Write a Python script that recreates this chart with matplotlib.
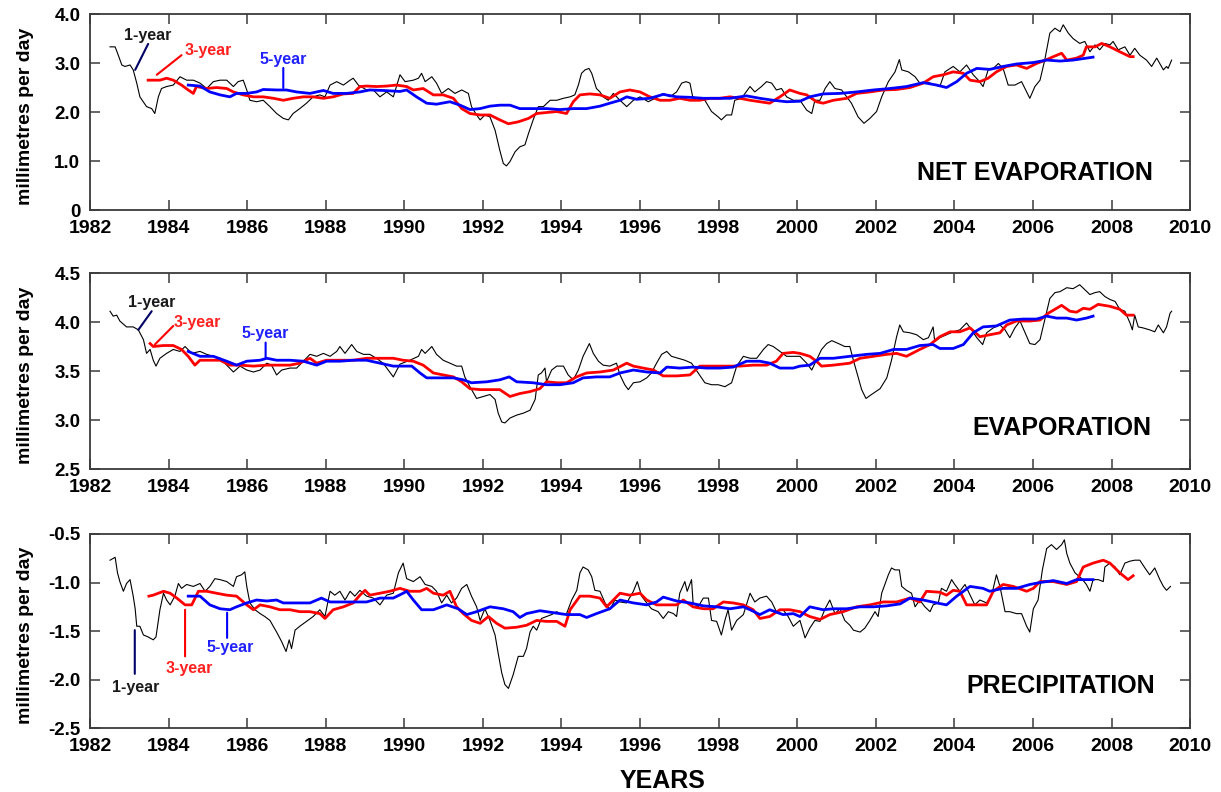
import matplotlib
matplotlib.use("Agg")
import matplotlib.pyplot as plt

plt.rcParams['font.family'] = ['Liberation Sans', 'DejaVu Sans']
plt.rcParams['font.weight'] = 'bold'

# ---------------- NET EVAPORATION ----------------
net_1yr_t = [1982.51, 1982.64, 1982.72, 1982.81, 1982.89, 1983.02, 1983.10, 1983.19, 1983.27, 1983.44, 1983.57, 1983.65,
             1983.74, 1983.82, 1983.95, 1984.12, 1984.29, 1984.46, 1984.63, 1984.80, 1984.97, 1985.14, 1985.31, 1985.48,
             1985.65, 1985.77, 1985.90, 1985.99, 1986.07, 1986.24, 1986.41, 1986.58, 1986.75, 1986.92, 1987.05, 1987.17,
             1987.34, 1987.51, 1987.68, 1987.85, 1987.98, 1988.11, 1988.28, 1988.45, 1988.62, 1988.70, 1988.83, 1989.04,
             1989.21, 1989.38, 1989.55, 1989.72, 1989.89, 1990.02, 1990.23, 1990.36, 1990.44, 1990.53, 1990.70, 1990.82,
             1990.95, 1991.12, 1991.29, 1991.46, 1991.63, 1991.71, 1991.84, 1991.93, 1992.05, 1992.18, 1992.31, 1992.43,
             1992.52, 1992.60, 1992.69, 1992.82, 1992.94, 1993.07, 1993.16, 1993.28, 1993.41, 1993.54, 1993.71, 1993.88,
             1994.05, 1994.22, 1994.34, 1994.43, 1994.51, 1994.60, 1994.70, 1994.77, 1994.89, 1994.98, 1995.06, 1995.19,
             1995.32, 1995.49, 1995.66, 1995.83, 1996.00, 1996.21, 1996.38, 1996.59, 1996.76, 1996.93, 1997.06, 1997.17,
             1997.27, 1997.34, 1997.48, 1997.65, 1997.82, 1997.99, 1998.07, 1998.20, 1998.33, 1998.41, 1998.58, 1998.80,
             1998.92, 1999.09, 1999.22, 1999.35, 1999.47, 1999.60, 1999.73, 1999.90, 2000.07, 2000.24, 2000.37, 2000.45,
             2000.58, 2000.71, 2000.83, 2000.96, 2001.13, 2001.26, 2001.38, 2001.55, 2001.70, 2001.85, 2002.02, 2002.15,
             2002.32, 2002.49, 2002.60, 2002.66, 2002.83, 2003.00, 2003.12, 2003.29, 2003.51, 2003.63, 2003.76, 2003.97,
             2004.14, 2004.31, 2004.48, 2004.61, 2004.73, 2004.86, 2004.99, 2005.12, 2005.24, 2005.37, 2005.54, 2005.71,
             2005.84, 2005.92, 2006.05, 2006.18, 2006.30, 2006.43, 2006.56, 2006.69, 2006.77, 2006.90, 2007.02, 2007.19,
             2007.32, 2007.45, 2007.58, 2007.70, 2007.83, 2007.96, 2008.04, 2008.17, 2008.34, 2008.47, 2008.59, 2008.72,
             2008.89, 2009.02, 2009.15, 2009.32, 2009.40, 2009.44, 2009.53]
net_1yr_v = [3.33, 3.33, 3.16, 2.96, 2.93, 2.96, 2.86, 2.59, 2.31, 2.11, 2.07, 1.97,
             2.31, 2.48, 2.52, 2.55, 2.72, 2.65, 2.65, 2.59, 2.48, 2.62, 2.65, 2.65,
             2.52, 2.62, 2.65, 2.45, 2.24, 2.21, 2.24, 2.11, 1.97, 1.87, 1.84, 1.97,
             2.07, 2.18, 2.31, 2.35, 2.31, 2.55, 2.62, 2.55, 2.65, 2.69, 2.55, 2.45,
             2.45, 2.31, 2.41, 2.31, 2.76, 2.62, 2.65, 2.69, 2.79, 2.62, 2.72, 2.59,
             2.38, 2.48, 2.38, 2.45, 2.38, 2.11, 1.94, 1.84, 1.94, 1.90, 1.63, 1.22,
             0.95, 0.90, 0.99, 1.19, 1.29, 1.33, 1.56, 1.84, 2.11, 2.11, 2.24, 2.24,
             2.28, 2.31, 2.35, 2.55, 2.79, 2.86, 2.89, 2.79, 2.48, 2.41, 2.31, 2.24,
             2.38, 2.24, 2.11, 2.24, 2.31, 2.21, 2.28, 2.38, 2.31, 2.41, 2.59, 2.62,
             2.59, 2.31, 2.28, 2.24, 2.01, 1.90, 1.84, 1.94, 1.94, 2.24, 2.28, 2.52,
             2.41, 2.52, 2.62, 2.59, 2.45, 2.48, 2.31, 2.24, 2.24, 2.04, 1.97, 2.24,
             2.24, 2.48, 2.62, 2.48, 2.45, 2.31, 2.18, 1.90, 1.77, 1.87, 2.01, 2.31,
             2.62, 2.82, 3.07, 2.86, 2.82, 2.72, 2.59, 2.62, 2.55, 2.52, 2.82, 2.93,
             2.82, 2.96, 2.76, 2.65, 2.52, 2.86, 2.89, 2.99, 2.89, 2.55, 2.55, 2.62,
             2.41, 2.28, 2.52, 2.65, 3.06, 3.61, 3.71, 3.64, 3.78, 3.61, 3.50, 3.40,
             3.44, 3.23, 3.37, 3.27, 3.40, 3.37, 3.44, 3.27, 3.33, 3.16, 3.30, 3.16,
             3.06, 2.93, 3.10, 2.86, 2.93, 2.89, 3.06]

net_3yr_t = [1983.48, 1983.78, 1983.95, 1984.12, 1984.33, 1984.50, 1984.63, 1984.71, 1984.97, 1985.22, 1985.48, 1985.65,
             1985.90, 1986.16, 1986.41, 1986.67, 1986.92, 1987.17, 1987.43, 1987.68, 1987.94, 1988.19, 1988.45, 1988.70,
             1988.87, 1989.04, 1989.29, 1989.55, 1989.80, 1990.06, 1990.23, 1990.48, 1990.74, 1990.99, 1991.25, 1991.46,
             1991.67, 1991.93, 1992.18, 1992.43, 1992.65, 1992.90, 1993.16, 1993.37, 1993.62, 1993.88, 1994.13, 1994.30,
             1994.47, 1994.72, 1994.98, 1995.23, 1995.49, 1995.74, 1996.00, 1996.25, 1996.51, 1996.76, 1997.01, 1997.27,
             1997.52, 1997.78, 1998.03, 1998.29, 1998.54, 1998.80, 1999.05, 1999.30, 1999.56, 1999.81, 2000.07, 2000.24,
             2000.49, 2000.66, 2000.92, 2001.26, 2001.51, 2001.85, 2002.19, 2002.53, 2002.87, 2003.21, 2003.46, 2003.72,
             2003.97, 2004.23, 2004.40, 2004.65, 2004.86, 2005.07, 2005.33, 2005.58, 2005.84, 2006.09, 2006.35, 2006.52,
             2006.73, 2006.86, 2007.11, 2007.28, 2007.36, 2007.58, 2007.75, 2007.96, 2008.21, 2008.47, 2008.55]
net_3yr_v = [2.65, 2.65, 2.69, 2.65, 2.55, 2.45, 2.38, 2.52, 2.48, 2.50, 2.48, 2.41,
             2.35, 2.31, 2.31, 2.28, 2.24, 2.28, 2.31, 2.31, 2.28, 2.31, 2.37, 2.38,
             2.52, 2.53, 2.52, 2.53, 2.55, 2.52, 2.45, 2.48, 2.35, 2.35, 2.28, 2.07,
             1.97, 1.94, 1.94, 1.84, 1.76, 1.80, 1.87, 1.97, 1.99, 2.01, 1.97, 2.21,
             2.35, 2.37, 2.35, 2.28, 2.41, 2.45, 2.41, 2.31, 2.24, 2.24, 2.28, 2.24,
             2.24, 2.28, 2.28, 2.31, 2.28, 2.24, 2.21, 2.18, 2.31, 2.45, 2.38, 2.35,
             2.21, 2.18, 2.24, 2.28, 2.38, 2.41, 2.45, 2.46, 2.50, 2.59, 2.72, 2.76,
             2.82, 2.79, 2.65, 2.62, 2.69, 2.82, 2.93, 2.96, 2.89, 2.99, 3.07, 3.13,
             3.20, 3.06, 3.10, 3.16, 3.33, 3.33, 3.40, 3.33, 3.23, 3.13, 3.13]

net_5yr_t = [1984.50, 1984.80, 1985.05, 1985.31, 1985.56, 1985.73, 1985.99, 1986.24, 1986.41, 1986.75, 1987.00, 1987.26,
             1987.60, 1987.94, 1988.19, 1988.53, 1988.87, 1989.12, 1989.46, 1989.89, 1990.06, 1990.31, 1990.57, 1990.82,
             1991.16, 1991.42, 1991.67, 1991.93, 1992.18, 1992.43, 1992.69, 1992.94, 1993.28, 1993.62, 1993.96, 1994.30,
             1994.64, 1994.98, 1995.23, 1995.49, 1995.66, 1995.91, 1996.25, 1996.59, 1996.93, 1997.27, 1997.61, 1997.95,
             1998.29, 1998.71, 1999.05, 1999.39, 1999.73, 2000.07, 2000.32, 2000.66, 2001.09, 2001.51, 2001.94, 2002.36,
             2002.78, 2003.21, 2003.55, 2003.80, 2004.06, 2004.31, 2004.57, 2004.90, 2005.24, 2005.58, 2006.01, 2006.35,
             2006.69, 2007.02, 2007.36, 2007.53]
net_5yr_v = [2.55, 2.53, 2.41, 2.35, 2.31, 2.38, 2.38, 2.41, 2.46, 2.45, 2.45, 2.41,
             2.38, 2.44, 2.38, 2.38, 2.41, 2.45, 2.44, 2.42, 2.45, 2.31, 2.18, 2.16,
             2.21, 2.14, 2.05, 2.07, 2.12, 2.14, 2.14, 2.07, 2.07, 2.07, 2.05, 2.07,
             2.07, 2.12, 2.18, 2.24, 2.31, 2.26, 2.28, 2.36, 2.31, 2.30, 2.28, 2.28,
             2.28, 2.33, 2.28, 2.24, 2.21, 2.22, 2.31, 2.37, 2.38, 2.41, 2.45, 2.48,
             2.52, 2.60, 2.55, 2.50, 2.62, 2.79, 2.89, 2.87, 2.93, 2.98, 3.01, 3.06,
             3.04, 3.06, 3.10, 3.12]

# ---------------- EVAPORATION ----------------
evap_1yr_t = [1982.51, 1982.59, 1982.68, 1982.76, 1982.93, 1983.10, 1983.23, 1983.36, 1983.44, 1983.53, 1983.61, 1983.68,
              1983.78, 1983.95, 1984.12, 1984.29, 1984.42, 1984.59, 1984.80, 1984.97, 1985.14, 1985.31, 1985.48, 1985.65,
              1985.82, 1985.99, 1986.16, 1986.33, 1986.50, 1986.62, 1986.75, 1986.88, 1987.09, 1987.26, 1987.43, 1987.60,
              1987.77, 1987.94, 1988.11, 1988.28, 1988.36, 1988.49, 1988.66, 1988.79, 1988.96, 1989.12, 1989.29, 1989.46,
              1989.59, 1989.72, 1989.89, 1990.14, 1990.36, 1990.44, 1990.53, 1990.70, 1990.82, 1990.99, 1991.16, 1991.33,
              1991.46, 1991.54, 1991.67, 1991.84, 1992.01, 1992.18, 1992.31, 1992.39, 1992.48, 1992.56, 1992.69, 1992.86,
              1993.03, 1993.20, 1993.33, 1993.41, 1993.49, 1993.58, 1993.62, 1993.75, 1993.88, 1994.05, 1994.17, 1994.30,
              1994.43, 1994.55, 1994.71, 1994.81, 1994.94, 1995.06, 1995.23, 1995.40, 1995.49, 1995.61, 1995.70, 1995.83,
              1996.00, 1996.17, 1996.29, 1996.42, 1996.55, 1996.68, 1996.80, 1996.97, 1997.14, 1997.31, 1997.48, 1997.65,
              1997.82, 1997.99, 1998.16, 1998.33, 1998.46, 1998.63, 1998.80, 1998.97, 1999.14, 1999.26, 1999.39, 1999.56,
              1999.73, 1999.90, 2000.07, 2000.24, 2000.37, 2000.49, 2000.62, 2000.75, 2000.88, 2001.05, 2001.21, 2001.34,
              2001.43, 2001.55, 2001.64, 2001.75, 2001.89, 2002.11, 2002.28, 2002.40, 2002.53, 2002.61, 2002.70, 2002.87,
              2003.04, 2003.21, 2003.34, 2003.46, 2003.50, 2003.63, 2003.80, 2003.97, 2004.14, 2004.31, 2004.44, 2004.57,
              2004.72, 2004.82, 2004.99, 2005.16, 2005.29, 2005.41, 2005.54, 2005.67, 2005.80, 2005.92, 2006.05, 2006.18,
              2006.30, 2006.43, 2006.56, 2006.69, 2006.86, 2007.02, 2007.19, 2007.32, 2007.45, 2007.58, 2007.70, 2007.83,
              2007.96, 2008.09, 2008.21, 2008.34, 2008.47, 2008.53, 2008.59, 2008.68, 2008.80, 2008.97, 2009.10, 2009.19,
              2009.32, 2009.40, 2009.49, 2009.53]
evap_1yr_v = [4.11, 4.06, 4.07, 4.01, 3.95, 3.95, 3.92, 3.82, 3.68, 3.72, 3.61, 3.55,
              3.63, 3.68, 3.72, 3.70, 3.75, 3.68, 3.70, 3.67, 3.65, 3.63, 3.56, 3.49,
              3.55, 3.51, 3.49, 3.51, 3.58, 3.56, 3.46, 3.51, 3.53, 3.53, 3.60, 3.67,
              3.65, 3.68, 3.65, 3.70, 3.75, 3.68, 3.77, 3.70, 3.67, 3.67, 3.63, 3.58,
              3.51, 3.44, 3.57, 3.61, 3.65, 3.72, 3.68, 3.75, 3.67, 3.61, 3.58, 3.55,
              3.55, 3.44, 3.34, 3.22, 3.24, 3.26, 3.21, 3.07, 2.98, 2.97, 3.02, 3.05,
              3.07, 3.10, 3.21, 3.46, 3.48, 3.53, 3.39, 3.51, 3.55, 3.55, 3.46, 3.41,
              3.51, 3.65, 3.78, 3.68, 3.60, 3.56, 3.55, 3.58, 3.46, 3.36, 3.31, 3.38,
              3.39, 3.43, 3.48, 3.58, 3.67, 3.70, 3.65, 3.63, 3.61, 3.58, 3.48, 3.38,
              3.36, 3.36, 3.34, 3.38, 3.55, 3.65, 3.63, 3.63, 3.72, 3.77, 3.75, 3.70,
              3.65, 3.65, 3.65, 3.58, 3.51, 3.61, 3.72, 3.78, 3.81, 3.78, 3.75, 3.75,
              3.61, 3.44, 3.31, 3.22, 3.26, 3.32, 3.43, 3.61, 3.85, 3.97, 3.90, 3.89,
              3.87, 3.82, 3.84, 3.95, 3.80, 3.84, 3.87, 3.90, 3.92, 3.99, 3.92, 3.84,
              3.77, 3.89, 3.94, 3.97, 3.92, 3.84, 3.94, 4.01, 3.89, 3.78, 3.77, 3.82,
              4.02, 4.24, 4.30, 4.31, 4.35, 4.34, 4.38, 4.33, 4.28, 4.30, 4.31, 4.26,
              4.23, 4.21, 4.13, 4.11, 3.99, 3.92, 4.07, 3.95, 3.94, 3.92, 3.90, 3.97,
              3.89, 3.95, 4.09, 4.11]

evap_3yr_t = [1983.53, 1983.61, 1983.87, 1984.12, 1984.33, 1984.50, 1984.67, 1984.80, 1985.05, 1985.31, 1985.56, 1985.82,
              1986.16, 1986.50, 1986.83, 1987.09, 1987.34, 1987.60, 1987.77, 1988.02, 1988.36, 1988.70, 1989.04, 1989.38,
              1989.72, 1989.97, 1990.23, 1990.48, 1990.74, 1990.99, 1991.25, 1991.46, 1991.67, 1991.93, 1992.18, 1992.43,
              1992.69, 1992.94, 1993.20, 1993.45, 1993.62, 1993.88, 1994.13, 1994.38, 1994.64, 1994.98, 1995.32, 1995.66,
              1995.83, 1996.08, 1996.34, 1996.59, 1996.93, 1997.27, 1997.52, 1997.86, 1998.20, 1998.54, 1998.88, 1999.22,
              1999.47, 1999.64, 1999.90, 2000.07, 2000.32, 2000.49, 2000.62, 2000.92, 2001.34, 2001.60, 2001.94, 2002.28,
              2002.53, 2002.78, 2003.12, 2003.38, 2003.63, 2003.89, 2004.14, 2004.40, 2004.65, 2004.90, 2005.16, 2005.33,
              2005.58, 2005.92, 2006.18, 2006.39, 2006.73, 2006.94, 2007.11, 2007.28, 2007.45, 2007.66, 2007.96, 2008.21,
              2008.38, 2008.55]
evap_3yr_v = [3.78, 3.75, 3.76, 3.76, 3.72, 3.65, 3.56, 3.61, 3.61, 3.61, 3.56, 3.56,
              3.55, 3.56, 3.56, 3.56, 3.58, 3.63, 3.58, 3.61, 3.61, 3.61, 3.63, 3.63,
              3.63, 3.61, 3.60, 3.56, 3.48, 3.46, 3.44, 3.39, 3.32, 3.31, 3.31, 3.31,
              3.24, 3.27, 3.29, 3.32, 3.39, 3.38, 3.38, 3.44, 3.48, 3.49, 3.51, 3.58,
              3.55, 3.53, 3.51, 3.45, 3.45, 3.46, 3.55, 3.55, 3.55, 3.55, 3.56, 3.56,
              3.60, 3.68, 3.69, 3.68, 3.65, 3.60, 3.55, 3.56, 3.58, 3.63, 3.65, 3.67,
              3.68, 3.65, 3.72, 3.77, 3.85, 3.90, 3.90, 3.94, 3.85, 3.87, 3.89, 3.97,
              4.01, 4.01, 4.02, 4.09, 4.17, 4.11, 4.10, 4.14, 4.13, 4.18, 4.16, 4.13,
              4.07, 4.07]

evap_5yr_t = [1984.50, 1984.80, 1985.14, 1985.48, 1985.73, 1985.99, 1986.33, 1986.50, 1986.75, 1987.09, 1987.43, 1987.77,
              1988.02, 1988.36, 1988.70, 1989.04, 1989.38, 1989.72, 1990.06, 1990.19, 1990.40, 1990.57, 1990.91, 1991.25,
              1991.50, 1991.71, 1992.10, 1992.43, 1992.67, 1992.86, 1993.28, 1993.62, 1993.96, 1994.30, 1994.55, 1994.89,
              1995.23, 1995.49, 1995.83, 1996.17, 1996.51, 1996.68, 1997.01, 1997.35, 1997.69, 1998.03, 1998.37, 1998.71,
              1999.05, 1999.30, 1999.56, 1999.90, 2000.07, 2000.32, 2000.58, 2000.92, 2001.34, 2001.77, 2002.11, 2002.45,
              2002.78, 2003.12, 2003.46, 2003.63, 2003.97, 2004.23, 2004.48, 2004.73, 2005.07, 2005.41, 2005.75, 2006.09,
              2006.35, 2006.60, 2006.86, 2007.11, 2007.36, 2007.53]
evap_5yr_v = [3.70, 3.65, 3.65, 3.60, 3.56, 3.60, 3.61, 3.63, 3.61, 3.61, 3.60, 3.56,
              3.60, 3.60, 3.61, 3.61, 3.58, 3.55, 3.55, 3.55, 3.48, 3.43, 3.43, 3.43,
              3.41, 3.38, 3.39, 3.41, 3.44, 3.39, 3.38, 3.36, 3.36, 3.38, 3.43, 3.44,
              3.44, 3.48, 3.51, 3.49, 3.48, 3.54, 3.53, 3.54, 3.53, 3.53, 3.54, 3.60,
              3.60, 3.58, 3.53, 3.53, 3.55, 3.56, 3.63, 3.63, 3.65, 3.67, 3.68, 3.72,
              3.72, 3.76, 3.77, 3.73, 3.73, 3.77, 3.89, 3.95, 3.96, 4.02, 4.03, 4.03,
              4.06, 4.04, 4.04, 4.02, 4.04, 4.06]

# ---------------- PRECIPITATION ----------------
prec_1yr_t = [1982.51, 1982.64, 1982.70, 1982.76, 1982.85, 1982.93, 1983.02, 1983.10, 1983.15, 1983.19, 1983.27, 1983.36,
              1983.48, 1983.61, 1983.68, 1983.74, 1983.78, 1983.87, 1983.95, 1984.04, 1984.16, 1984.25, 1984.33, 1984.46,
              1984.63, 1984.80, 1984.93, 1985.05, 1985.18, 1985.31, 1985.48, 1985.65, 1985.73, 1985.86, 1985.94, 1985.99,
              1986.07, 1986.20, 1986.33, 1986.45, 1986.58, 1986.75, 1986.88, 1986.99, 1987.07, 1987.13, 1987.22, 1987.34,
              1987.51, 1987.68, 1987.85, 1987.98, 1988.11, 1988.23, 1988.36, 1988.49, 1988.62, 1988.74, 1988.87, 1989.04,
              1989.21, 1989.38, 1989.55, 1989.72, 1989.85, 1989.97, 1990.06, 1990.23, 1990.40, 1990.53, 1990.70, 1990.82,
              1990.95, 1991.08, 1991.20, 1991.33, 1991.46, 1991.59, 1991.71, 1991.84, 1991.93, 1992.05, 1992.18, 1992.31,
              1992.39, 1992.48, 1992.56, 1992.65, 1992.77, 1992.90, 1993.03, 1993.11, 1993.20, 1993.28, 1993.37, 1993.49,
              1993.62, 1993.75, 1993.88, 1994.00, 1994.13, 1994.26, 1994.39, 1994.47, 1994.55, 1994.68, 1994.77, 1994.85,
              1994.98, 1995.11, 1995.23, 1995.36, 1995.49, 1995.66, 1995.83, 1995.93, 1996.04, 1996.17, 1996.29, 1996.46,
              1996.59, 1996.72, 1996.85, 1996.93, 1997.01, 1997.14, 1997.20, 1997.31, 1997.35, 1997.48, 1997.61, 1997.74,
              1997.82, 1997.95, 1998.07, 1998.16, 1998.24, 1998.33, 1998.46, 1998.63, 1998.80, 1998.92, 1999.05, 1999.22,
              1999.35, 1999.47, 1999.64, 1999.77, 1999.90, 2000.07, 2000.20, 2000.32, 2000.45, 2000.58, 2000.71, 2000.83,
              2000.96, 2001.09, 2001.21, 2001.34, 2001.43, 2001.60, 2001.72, 2001.85, 2001.98, 2002.06, 2002.15, 2002.23,
              2002.32, 2002.40, 2002.49, 2002.60, 2002.66, 2002.78, 2002.91, 2003.00, 2003.12, 2003.25, 2003.38, 2003.46,
              2003.59, 2003.67, 2003.80, 2003.93, 2004.01, 2004.14, 2004.27, 2004.40, 2004.52, 2004.65, 2004.82, 2004.95,
              2005.07, 2005.16, 2005.29, 2005.41, 2005.58, 2005.71, 2005.84, 2005.92, 2006.01, 2006.13, 2006.24, 2006.35,
              2006.47, 2006.60, 2006.73, 2006.80, 2006.86, 2006.94, 2007.07, 2007.24, 2007.36, 2007.45, 2007.53, 2007.66,
              2007.79, 2007.83, 2007.96, 2008.09, 2008.21, 2008.34, 2008.47, 2008.59, 2008.72, 2008.85, 2008.97, 2009.10,
              2009.23, 2009.32, 2009.40, 2009.50]
prec_1yr_v = [-0.77, -0.74, -0.90, -0.99, -1.09, -1.01, -0.97, -1.14, -1.27, -1.45, -1.45, -1.54,
              -1.56, -1.59, -1.56, -1.39, -1.28, -1.11, -1.18, -1.23, -1.14, -1.01, -1.06, -1.02,
              -1.04, -1.01, -1.09, -1.04, -0.96, -0.97, -0.99, -1.04, -0.94, -0.92, -0.89, -1.04,
              -1.21, -1.28, -1.32, -1.35, -1.39, -1.51, -1.61, -1.71, -1.59, -1.68, -1.49, -1.45,
              -1.40, -1.35, -1.28, -1.35, -1.09, -1.13, -1.09, -1.18, -1.09, -1.14, -1.08, -1.14,
              -1.16, -1.23, -1.13, -1.11, -0.90, -0.80, -0.96, -0.99, -0.94, -1.02, -1.04, -1.09,
              -1.21, -1.13, -1.21, -1.16, -1.06, -1.02, -1.14, -1.25, -1.39, -1.27, -1.39, -1.54,
              -1.73, -1.93, -2.05, -2.09, -1.95, -1.76, -1.76, -1.68, -1.51, -1.45, -1.49, -1.37,
              -1.35, -1.33, -1.30, -1.33, -1.32, -1.18, -1.08, -0.90, -0.84, -0.87, -0.94, -1.08,
              -1.09, -1.21, -1.28, -1.18, -1.20, -1.21, -1.09, -0.99, -1.14, -1.21, -1.27, -1.30,
              -1.37, -1.30, -1.32, -1.35, -1.11, -0.99, -1.09, -0.97, -1.21, -1.25, -1.16, -1.16,
              -1.39, -1.40, -1.54, -1.39, -1.28, -1.49, -1.39, -1.33, -1.11, -1.20, -1.16, -1.14,
              -1.20, -1.30, -1.28, -1.35, -1.45, -1.39, -1.57, -1.47, -1.39, -1.40, -1.27, -1.18,
              -1.32, -1.27, -1.39, -1.44, -1.49, -1.51, -1.47, -1.39, -1.30, -1.35, -1.11, -1.02,
              -0.92, -0.85, -0.87, -0.87, -1.04, -1.08, -1.11, -1.25, -1.18, -1.25, -1.30, -1.23,
              -1.21, -1.06, -1.09, -0.97, -1.02, -1.09, -1.02, -1.13, -1.23, -1.18, -1.21, -1.13,
              -0.92, -1.04, -1.30, -1.30, -1.32, -1.32, -1.45, -1.51, -1.27, -1.18, -0.87, -0.65,
              -0.61, -0.66, -0.61, -0.56, -0.70, -0.80, -0.90, -0.96, -1.02, -1.09, -0.97, -0.97,
              -0.99, -0.84, -0.80, -0.84, -0.92, -0.80, -0.78, -0.77, -0.77, -0.85, -0.92, -0.85,
              -0.97, -1.04, -1.08, -1.04]

prec_3yr_t = [1983.50, 1983.61, 1983.87, 1984.04, 1984.21, 1984.42, 1984.59, 1984.76, 1984.97, 1985.22, 1985.48, 1985.73,
              1985.99, 1986.16, 1986.33, 1986.58, 1986.83, 1987.09, 1987.34, 1987.60, 1987.85, 1987.98, 1988.19, 1988.45,
              1988.70, 1988.87, 1989.00, 1989.12, 1989.38, 1989.63, 1989.89, 1990.14, 1990.40, 1990.57, 1990.74, 1990.99,
              1991.16, 1991.33, 1991.50, 1991.71, 1991.93, 1992.14, 1992.35, 1992.56, 1992.86, 1993.11, 1993.37, 1993.62,
              1993.88, 1994.09, 1994.22, 1994.47, 1994.72, 1994.98, 1995.15, 1995.32, 1995.49, 1995.74, 1996.00, 1996.17,
              1996.42, 1996.68, 1996.93, 1997.10, 1997.35, 1997.61, 1997.86, 1998.12, 1998.37, 1998.63, 1998.88, 1999.05,
              1999.30, 1999.56, 1999.81, 2000.07, 2000.32, 2000.58, 2000.83, 2001.17, 2001.51, 2001.85, 2002.19, 2002.53,
              2002.87, 2003.12, 2003.29, 2003.63, 2003.80, 2003.97, 2004.14, 2004.31, 2004.57, 2004.82, 2004.99, 2005.24,
              2005.50, 2005.84, 2006.01, 2006.18, 2006.52, 2006.86, 2007.11, 2007.28, 2007.53, 2007.79, 2007.96, 2008.21,
              2008.42, 2008.55]
prec_3yr_v = [-1.14, -1.13, -1.09, -1.11, -1.16, -1.23, -1.23, -1.09, -1.09, -1.11, -1.13, -1.14,
              -1.23, -1.28, -1.23, -1.25, -1.28, -1.28, -1.30, -1.30, -1.32, -1.37, -1.28, -1.25,
              -1.21, -1.13, -1.08, -1.13, -1.11, -1.09, -1.06, -1.09, -1.09, -1.06, -1.11, -1.13,
              -1.09, -1.25, -1.32, -1.39, -1.42, -1.35, -1.42, -1.47, -1.46, -1.44, -1.39, -1.40,
              -1.40, -1.45, -1.28, -1.14, -1.14, -1.16, -1.25, -1.18, -1.11, -1.13, -1.11, -1.18,
              -1.23, -1.23, -1.23, -1.18, -1.25, -1.27, -1.27, -1.20, -1.21, -1.23, -1.28, -1.37,
              -1.35, -1.28, -1.28, -1.30, -1.35, -1.38, -1.33, -1.30, -1.25, -1.23, -1.20, -1.20,
              -1.16, -1.20, -1.09, -1.10, -1.13, -1.08, -1.09, -1.23, -1.23, -1.23, -1.09, -1.02,
              -1.04, -1.09, -1.06, -0.99, -0.99, -1.02, -0.99, -0.84, -0.80, -0.77, -0.80, -0.90,
              -0.97, -0.93]

prec_5yr_t = [1984.50, 1984.80, 1985.05, 1985.31, 1985.56, 1985.73, 1985.99, 1986.24, 1986.50, 1986.75, 1986.92, 1987.26,
              1987.60, 1987.89, 1988.11, 1988.45, 1988.79, 1989.04, 1989.38, 1989.72, 1989.97, 1990.06, 1990.23, 1990.44,
              1990.74, 1991.08, 1991.37, 1991.59, 1991.84, 1992.18, 1992.52, 1992.77, 1992.94, 1993.11, 1993.45, 1993.79,
              1994.13, 1994.47, 1994.64, 1994.89, 1995.23, 1995.49, 1995.83, 1996.17, 1996.42, 1996.59, 1996.93, 1997.27,
              1997.61, 1997.95, 1998.29, 1998.63, 1998.80, 1999.05, 1999.30, 1999.64, 1999.90, 2000.07, 2000.32, 2000.66,
              2000.92, 2001.26, 2001.60, 2001.94, 2002.28, 2002.62, 2002.87, 2003.21, 2003.55, 2003.80, 2004.06, 2004.40,
              2004.73, 2004.90, 2005.24, 2005.58, 2005.92, 2006.18, 2006.52, 2006.86, 2007.11, 2007.36, 2007.53]
prec_5yr_v = [-1.14, -1.14, -1.23, -1.27, -1.28, -1.25, -1.21, -1.18, -1.19, -1.18, -1.21, -1.21,
              -1.21, -1.16, -1.20, -1.20, -1.20, -1.20, -1.16, -1.16, -1.11, -1.09, -1.18, -1.28,
              -1.28, -1.23, -1.27, -1.33, -1.30, -1.25, -1.27, -1.30, -1.36, -1.32, -1.29, -1.31,
              -1.33, -1.33, -1.36, -1.32, -1.27, -1.18, -1.21, -1.23, -1.20, -1.15, -1.19, -1.21,
              -1.24, -1.25, -1.27, -1.25, -1.28, -1.33, -1.28, -1.33, -1.32, -1.35, -1.25, -1.28,
              -1.27, -1.27, -1.25, -1.25, -1.24, -1.22, -1.16, -1.18, -1.21, -1.23, -1.14, -1.04,
              -1.06, -1.09, -1.06, -1.06, -1.02, -1.00, -0.98, -1.01, -0.97, -0.97, -0.97]

year_ticks = list(range(1982, 2011, 2))
panel_titles = ['NET EVAPORATION', 'EVAPORATION', 'PRECIPITATION']
ylims = [(0, 4), (2.5, 4.5), (-2.5, -0.5)]
yticks = [[0, 1, 2, 3, 4], [2.5, 3.0, 3.5, 4.0, 4.5], [-2.5, -2.0, -1.5, -1.0, -0.5]]
yticklabels = [['0', '1.0', '2.0', '3.0', '4.0'],
               ['2.5', '3.0', '3.5', '4.0', '4.5'],
               ['-2.5', '-2.0', '-1.5', '-1.0', '-0.5']]

series = [
    (net_1yr_t, net_1yr_v, net_3yr_t, net_3yr_v, net_5yr_t, net_5yr_v),
    (evap_1yr_t, evap_1yr_v, evap_3yr_t, evap_3yr_v, evap_5yr_t, evap_5yr_v),
    (prec_1yr_t, prec_1yr_v, prec_3yr_t, prec_3yr_v, prec_5yr_t, prec_5yr_v),
]

# label pointers: (label, colour, line start, line end, text pos, ha, va)
pointers = [
    [('1-year', '#000066', (1983.15, 2.86), (1983.48, 3.39), (1983.48, 3.41), 'center', 'bottom'),
     ('3-year', '#ff0000', (1983.70, 2.76), (1984.33, 3.16), (1984.40, 3.10), 'left', 'bottom'),
     ('5-year', '#0000ff', (1986.92, 2.49), (1986.92, 2.90), (1986.92, 2.92), 'center', 'bottom')],
    [('1-year', '#000066', (1983.23, 3.92), (1983.57, 4.11), (1983.57, 4.12), 'center', 'bottom'),
     ('3-year', '#ff0000', (1983.65, 3.77), (1984.12, 3.96), (1984.14, 3.92), 'left', 'bottom'),
     ('5-year', '#0000ff', (1986.47, 3.64), (1986.47, 3.79), (1986.47, 3.81), 'center', 'bottom')],
    [('1-year', '#000066', (1983.14, -1.49), (1983.14, -1.94), (1983.16, -2.00), 'center', 'top'),
     ('3-year', '#ff0000', (1984.42, -1.28), (1984.42, -1.76), (1984.52, -1.81), 'center', 'top'),
     ('5-year', '#0000ff', (1985.49, -1.31), (1985.49, -1.57), (1985.58, -1.59), 'center', 'top')],
]
text_colours = {'1-year': '#1a1a1a', '3-year': '#ff2020', '5-year': '#2020ff'}

title_pos = [(0.966, 0.19), (0.965, 0.21), (0.968, 0.22)]

fig = plt.figure(figsize=(12.21, 7.92), dpi=100)
axes_rects = [[0.0737, 0.7348, 0.901, 0.2475],
              [0.0737, 0.4078, 0.901, 0.2475],
              [0.0737, 0.0805, 0.901, 0.2453]]
spine_col = '#3a3a3a'

for i in range(3):
    ax = fig.add_axes(axes_rects[i])
    t1, v1, t3, v3, t5, v5 = series[i]
    ax.plot(t1, v1, color='black', lw=0.8, zorder=2)
    ax.plot(t3, v3, color='#ff0000', lw=2.0, zorder=3)
    ax.plot(t5, v5, color='#0000ff', lw=2.0, zorder=4)

    ax.set_xlim(1982, 2010)
    ax.set_ylim(*ylims[i])
    ax.set_xticks(year_ticks)
    ax.set_xticklabels([str(y) for y in year_ticks], fontsize=14, fontweight='bold')
    ax.set_yticks(yticks[i])
    ax.set_yticklabels(yticklabels[i], fontsize=13.5, fontweight='bold')
    ax.tick_params(axis='x', direction='in', top=True, bottom=True, length=7, width=1.1,
                   color=spine_col, pad=7)
    ax.tick_params(axis='y', direction='in', left=True, right=True, length=7, width=1.1,
                   color=spine_col, pad=7)
    for sp in ax.spines.values():
        sp.set_color(spine_col)
        sp.set_linewidth(1.3)

    ax.set_ylabel('millimetres per day', fontsize=14, fontweight='bold', va='center')
    ax.yaxis.set_label_coords(-0.059, 0.48)

    ax.text(title_pos[i][0], title_pos[i][1], panel_titles[i], transform=ax.transAxes,
            ha='right', va='center', fontsize=18, fontweight='bold')

    for lab, col, p0, p1, tp, ha, va in pointers[i]:
        ax.annotate('', xy=p1, xytext=p0,
                    arrowprops=dict(arrowstyle='-', color=col, lw=1.5,
                                    shrinkA=0, shrinkB=0))
        ax.text(tp[0], tp[1], lab, color=text_colours[lab], ha=ha, va=va,
                fontsize=11.5, fontweight='bold')

fig.text(663 / 1221, 0.0135, 'YEARS', ha='center', va='center', fontsize=18, fontweight='bold')

fig.savefig('out.png', dpi=100)
